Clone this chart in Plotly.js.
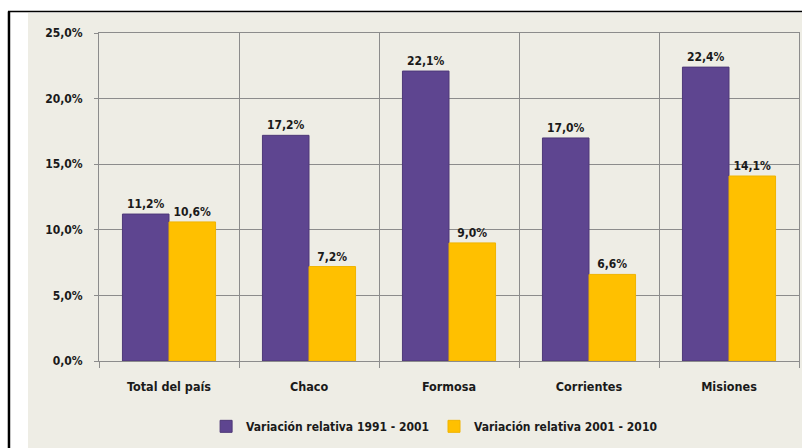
<!DOCTYPE html>
<html>
<head>
<meta charset="utf-8">
<script src="https://cdn.plot.ly/plotly-3.0.1.min.js"></script>
<style>html,body{margin:0;padding:0;background:#fff;}#chart{width:802px;height:448px;}</style>
</head>
<body>
<div id="chart"></div>
<script>
const categories = ["Total del país", "Chaco", "Formosa", "Corrientes", "Misiones"];
const series1Name = "Variación relativa 1991 - 2001";
const series1Values = [11.2, 17.2, 22.1, 17.0, 22.4];
const series2Name = "Variación relativa 2001 - 2010";
const series2Values = [10.6, 7.2, 9.0, 6.6, 14.1];
const yTickValues = [0, 5, 10, 15, 20, 25];
const yTickLabels = ["0,0%", "5,0%", "10,0%", "15,0%", "20,0%", "25,0%"];

const FONT = "'DejaVu Sans Condensed', 'Liberation Sans Narrow', 'Arial Narrow', sans-serif";
const TXT = "#1a1a1a";
const F = (s) => ({family: FONT, size: s, color: TXT, weight: "bold"});

const trace = (name, vals, color, line) => ({
  type: "bar", name: name, x: categories, y: vals,
  marker: {color: color, line: {color: line, width: 1}},
  texttemplate: "%{y:.1f}%", textposition: "outside", cliponaxis: false,
  textfont: F(12),
  hoverinfo: "skip"
});

const data = [
  trace(series1Name, series1Values, "#5e4590", "#4e3878"),
  trace(series2Name, series2Values, "#ffc000", "#f0b400")
];

const layout = {
  width: 802, height: 448,
  margin: {l: 99, r: 3, t: 33, b: 87},
  paper_bgcolor: "#ffffff", plot_bgcolor: "rgba(0,0,0,0)",
  separators: ",.",
  barmode: "group", bargap: 0.335, bargroupgap: 0,
  font: F(12),
  showlegend: true,
  legend: {orientation: "h", x: 0.153, xanchor: "left", y: -0.155, yanchor: "top",
           font: F(12), itemwidth: 20, tracegroupgap: 0,
           bgcolor: "rgba(0,0,0,0)"},
  xaxis: {
    type: "category", tickson: "boundaries", showgrid: true, gridcolor: "#8c8c8c", gridwidth: 1,
    ticks: "outside", ticklen: 6, tickcolor: "#8c8c8c",
    showline: true, linecolor: "#8c8c8c", mirror: true,
    tickfont: F(12.5), ticklabelstandoff: 14
  },
  yaxis: {
    range: [0, 25], tickmode: "array", tickvals: yTickValues, ticktext: yTickLabels,
    showgrid: true, gridcolor: "#8c8c8c", gridwidth: 1, zeroline: false,
    ticks: "outside", ticklen: 4, tickcolor: "#8c8c8c",
    showline: true, linecolor: "#8c8c8c", mirror: true,
    tickfont: F(12),
    ticklabelstandoff: 9
  },
  shapes: [
    {type: "rect", xref: "paper", yref: "paper", x0: -0.1014, x1: 1.01, y0: -0.27, y1: 1.061,
     fillcolor: "#eeede5", line: {width: 0}, layer: "below"},
    {type: "line", xref: "paper", yref: "paper", x0: -0.1286, x1: -0.1286, y0: -0.27, y1: 1.0655,
     line: {color: "#000", width: 2.5}},
    {type: "line", xref: "paper", yref: "paper", x0: -0.13, x1: 1.01, y0: 1.0655, y1: 1.0655,
     line: {color: "#000", width: 1.5}}
  ]
};

Plotly.newPlot("chart", data, layout, {displayModeBar: false, staticPlot: true});
</script>
</body>
</html>
